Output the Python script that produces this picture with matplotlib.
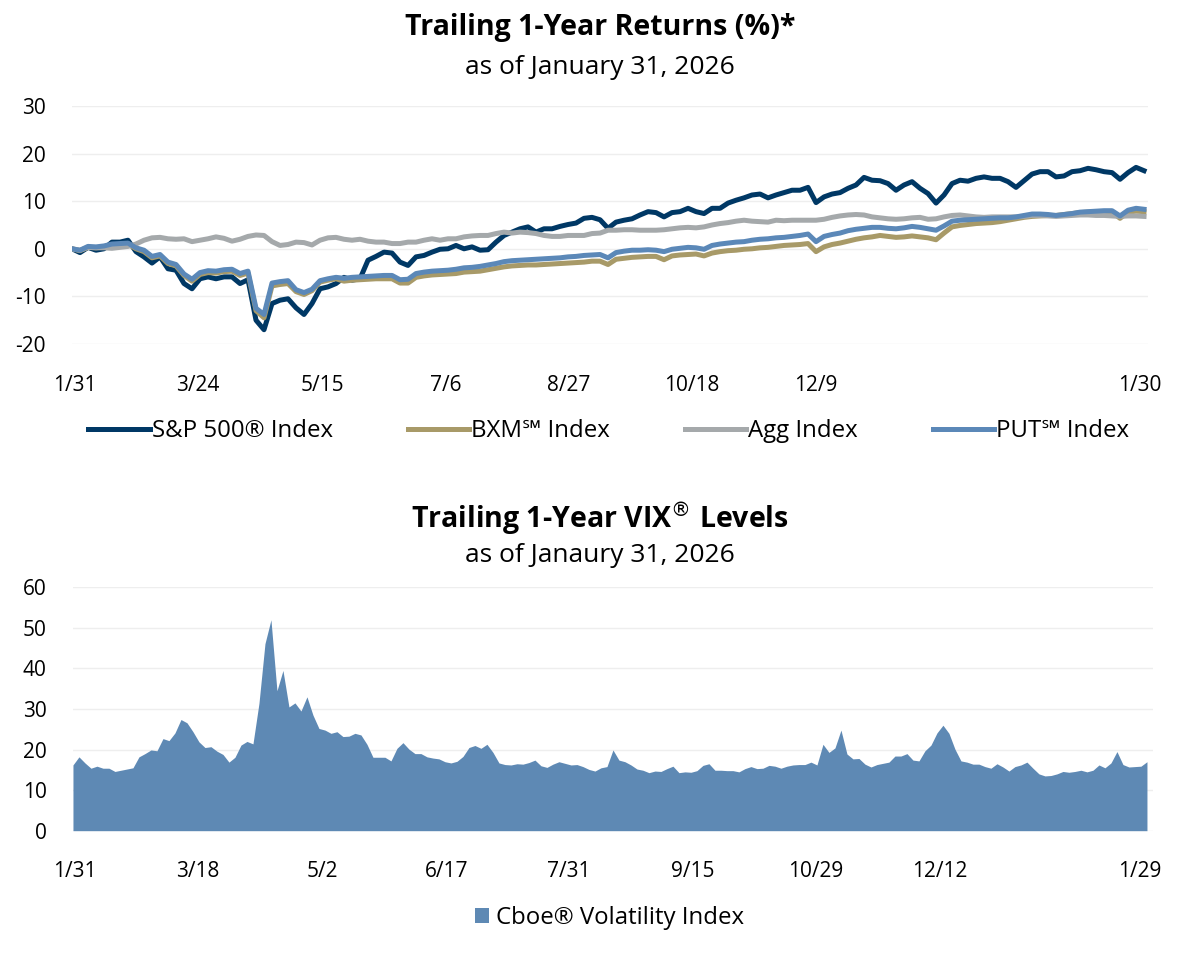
import numpy as np
import matplotlib.pyplot as plt

plt.rcParams['font.family'] = ['Open Sans', 'DejaVu Sans']
plt.rcParams['axes.unicode_minus'] = False

# ---- trailing 1-year returns (%), sampled along the chart ----
sp500 = [0, -0.8, 0.3, -0.3, 0, 1.4, 1.4, 1.8, -0.6, -1.7,
         -3.0, -1.7, -4.2, -4.5, -7.3, -8.4, -6.3, -5.9, -6.3, -5.9,
         -5.9, -7.3, -6.5, -15.0, -17.0, -11.5, -10.8, -10.5, -12.4, -13.8,
         -11.5, -8.4, -8.0, -7.3,
         -6.0, -6.6, -6.3, -2.4, -1.6, -0.7, -0.9, -2.8, -3.5, -1.7,
         -1.4, -0.7, -0.1, 0.0, 0.7, 0.0, 0.4, -0.3, -0.2, 1.4,
         2.8, 3.5, 4.2, 4.6, 3.5, 4.2, 4.2, 4.7, 5.1, 5.4,
         6.4, 6.6, 6.1, 4.3,
         5.6, 6.0, 6.3, 7.1, 7.8, 7.6, 6.7, 7.6, 7.8, 8.5,
         7.8, 7.4, 8.5, 8.5, 9.6, 10.2, 10.7, 11.3, 11.5, 10.7,
         11.3, 11.8, 12.3, 12.3, 12.9, 9.7, 10.9, 11.5, 11.8, 12.7,
         13.4, 15.0, 14.4,
         14.3, 13.7, 12.3, 13.4, 14.1, 12.7, 11.6, 9.6, 11.3, 13.7,
         14.4, 14.2, 14.8, 15.1, 14.8, 14.8, 14.1, 12.9, 14.3, 15.7,
         16.2, 16.2, 15.1, 15.3, 16.2, 16.4, 16.9, 16.6, 16.2, 16.0,
         14.6, 16.0, 17.1, 16.4]

bxm = [0, -0.4, 0.3, 0.2, 0.4, 0.8, 0.9, 1.0, 0.0, -0.6,
       -1.9, -1.5, -3.1, -3.6, -5.6, -6.8, -5.4, -5.0, -5.1, -4.8,
       -4.7, -5.6, -5.1, -13.0, -14.5, -7.8, -7.5, -7.3, -9.0, -9.6,
       -8.8, -7.0, -6.6, -6.3,
       -6.8, -6.6, -6.5, -6.4, -6.3, -6.3, -6.3, -7.2, -7.2, -6.0,
       -5.7, -5.5, -5.4, -5.3, -5.2, -4.9, -4.8, -4.7, -4.4, -4.1,
       -3.8, -3.6, -3.5, -3.4, -3.4, -3.3, -3.2, -3.1, -3.0, -2.9,
       -2.8, -2.6, -2.6, -3.3,
       -2.2, -2.0, -1.8, -1.7, -1.6, -1.6, -2.3, -1.5, -1.3, -1.2,
       -1.1, -1.5, -0.9, -0.6, -0.4, -0.3, -0.1, 0.0, 0.2, 0.3,
       0.5, 0.7, 0.8, 0.9, 1.1, -0.6, 0.4, 0.9, 1.2, 1.6,
       2.0, 2.3, 2.5,
       2.8, 2.6, 2.4, 2.5, 2.7, 2.5, 2.3, 1.9, 3.3, 4.6,
       4.9, 5.1, 5.3, 5.4, 5.5, 5.7, 6.0, 6.3, 6.6, 6.8,
       6.9, 7.0, 7.0, 7.2, 7.4, 7.6, 7.7, 7.7, 7.7, 7.7,
       6.4, 7.7, 7.9, 7.8]

agg = [0, -0.3, 0.3, 0.2, 0.2, 0.1, 0.3, 0.5, 1.0, 1.8,
       2.3, 2.4, 2.1, 2.0, 2.1, 1.5, 1.8, 2.1, 2.5, 2.2,
       1.6, 2.0, 2.6, 2.9, 2.8, 1.5, 0.7, 0.9, 1.4, 1.3,
       0.8, 1.8, 2.3, 2.4,
       2.0, 1.8, 2.0, 1.6, 1.4, 1.4, 1.1, 1.1, 1.4, 1.4,
       1.8, 2.1, 1.8, 2.1, 2.1, 2.5, 2.7, 2.8, 2.8, 3.2,
       3.5, 3.3, 3.5, 3.4, 3.2, 2.8, 2.6, 2.6, 2.8, 2.8,
       2.8, 3.2, 3.3, 3.9,
       3.9, 4.0, 4.0, 3.9, 3.9, 3.9, 4.0, 4.2, 4.4, 4.5,
       4.4, 4.6, 5.0, 5.3, 5.5, 5.8, 6.0, 5.8, 5.7, 5.6,
       6.0, 5.9, 6.0, 6.0, 6.0, 6.0, 6.2, 6.6, 6.9, 7.1,
       7.2, 7.1, 6.7,
       6.5, 6.3, 6.2, 6.3, 6.5, 6.6, 6.2, 6.3, 6.7, 7.0,
       7.1, 6.9, 6.7, 6.6, 6.7, 6.7, 6.7, 6.7, 6.8, 7.0,
       7.0, 6.9, 6.8, 6.9, 7.0, 7.1, 7.1, 7.0, 7.0, 6.9,
       6.8, 6.9, 6.9, 6.8]

put = [0, -0.3, 0.5, 0.4, 0.6, 1.0, 1.1, 1.2, 0.2, -0.3,
       -1.6, -1.2, -2.8, -3.3, -5.3, -6.4, -5.0, -4.6, -4.7, -4.4,
       -4.3, -5.2, -4.7, -12.5, -13.8, -7.2, -6.9, -6.7, -8.6, -9.2,
       -8.5, -6.7, -6.3, -6.0,
       -6.2, -6.0, -5.9, -5.8, -5.7, -5.6, -5.6, -6.5, -6.4, -5.2,
       -4.9, -4.7, -4.6, -4.5, -4.3, -4.0, -3.9, -3.7, -3.4, -3.1,
       -2.7, -2.5, -2.4, -2.3, -2.2, -2.1, -2.0, -1.9, -1.7, -1.6,
       -1.4, -1.3, -1.2, -1.9,
       -0.8, -0.5, -0.3, -0.3, -0.2, -0.3, -0.6, -0.1, 0.1, 0.3,
       0.2, -0.1, 0.7, 1.0, 1.2, 1.4, 1.5, 1.8, 2.0, 2.1,
       2.3, 2.4, 2.6, 2.8, 3.1, 1.5, 2.6, 3.0, 3.3, 3.8,
       4.1, 4.3, 4.5,
       4.5, 4.3, 4.2, 4.4, 4.7, 4.5, 4.2, 3.9, 4.8, 5.8,
       6.0, 6.1, 6.2, 6.3, 6.4, 6.5, 6.5, 6.7, 7.0, 7.3,
       7.3, 7.2, 7.0, 7.2, 7.4, 7.7, 7.8, 7.9, 8.0, 8.0,
       6.9, 8.1, 8.5, 8.3]

ret_ticks = ['1/31', '3/24', '5/15', '7/6', '8/27', '10/18', '12/9', '1/30']
ret_tick_pos = [0.4, 15.75, 31.25, 46.75, 62.1, 77.5, 93.0, 133.5]

# ---- VIX levels ----
vix = [16.2, 18.2, 16.7, 15.4, 15.9, 15.4, 15.4, 14.6, 14.9, 15.2,
       15.5, 18.2, 19.0, 19.9, 19.7, 22.7, 22.2, 24.1, 27.4, 26.6,
       24.4, 21.9, 20.5, 20.7, 19.6, 18.8, 16.9, 18.1, 21.1, 22.0,
       21.4, 31.4, 46.1, 52.0, 34.5, 39.5, 30.5, 31.5, 29.5, 33.0,
       28.5, 25.2, 24.8, 24.0, 24.4, 23.2, 23.3, 24.0, 23.6, 21.3,
       18.1, 18.1, 18.1, 17.2, 20.3,
       21.7, 20.1, 19.0, 19.0, 18.2, 17.9, 17.7, 17.0, 16.7, 17.1,
       18.3, 20.5, 21.0, 20.3, 21.3, 19.3, 16.7, 16.3, 16.2, 16.5,
       16.4, 16.8, 17.4, 16.0, 15.6, 16.4, 17.0, 16.6, 16.2, 16.3,
       15.8, 15.1, 14.7, 15.5, 15.8, 19.9, 17.4, 17.0, 16.2, 15.2,
       14.9, 14.3, 14.7, 14.6, 15.3, 15.9, 14.3, 14.5, 14.4, 14.8,
       16.1, 16.5, 14.9, 14.9, 14.8, 14.8, 14.5, 15.3, 15.8, 15.3,
       15.4, 16.1, 15.9, 15.4, 15.9, 16.2, 16.3,
       16.3, 16.9, 16.2, 21.3, 19.3, 20.4, 24.8, 18.9, 17.7, 17.8,
       16.4, 15.7, 16.3, 16.6, 16.9, 18.4, 18.4, 19.0, 17.4, 17.2,
       19.7, 21.1, 24.1, 26.0, 24.0, 20.1, 17.2, 16.9, 16.4, 16.4,
       15.8, 15.4, 16.5, 15.7, 14.7, 15.8, 16.2, 16.9, 15.4, 14.0,
       13.5, 13.6, 14.0, 14.6, 14.4, 14.6, 14.9, 14.5, 14.9, 16.2,
       15.5, 16.7, 19.5, 16.3, 15.7, 15.8, 15.9, 17.0]

vix_ticks = ['1/31', '3/18', '5/2', '6/17', '7/31', '9/15', '10/29', '12/12', '1/29']
vix_tick_pos = [0.3, 20.8, 41.5, 62.2, 82.7, 103.3, 123.8, 144.5, 177.8]

c_sp = '#003865'
c_bxm = '#a89a68'
c_agg = '#a5a9ab'
c_put = '#5b88b8'
c_vix = '#5e89b4'
grid_c = '#eeeeee'

fig = plt.figure(figsize=(12, 9.59), dpi=100)

# ---------------- top chart ----------------
ax1 = fig.add_axes([0.06, 0.6413, 0.8967, 0.2482])
x1 = np.arange(len(sp500))
lw = 3.6
ax1.plot(x1, sp500, color=c_sp, lw=lw, label='S&P 500® Index', solid_joinstyle='round')
ax1.plot(x1, bxm, color=c_bxm, lw=lw, label='BXM\u2120 Index', solid_joinstyle='round')
ax1.plot(x1, agg, color=c_agg, lw=lw, label='Agg Index', solid_joinstyle='round')
ax1.plot(x1, put, color=c_put, lw=lw, label='PUT\u2120 Index', solid_joinstyle='round')
ax1.set_xlim(0, 134.5)
ax1.set_ylim(-20, 30)
ax1.set_yticks([-20, -10, 0, 10, 20, 30])
ax1.set_xticks(ret_tick_pos)
ax1.set_xticklabels(ret_ticks)
ax1.grid(axis='y', color=grid_c, lw=1)
ax1.set_axisbelow(True)
for s in ax1.spines.values():
    s.set_visible(False)
ax1.tick_params(length=0, labelsize=15, colors='black')
ax1.tick_params(axis='y', pad=19)
ax1.tick_params(axis='x', pad=22)

fig.text(0.5, 1 - 27 / 959, 'Trailing 1-Year Returns (%)*', ha='center', va='center',
         fontsize=20.5, fontweight='bold')
fig.text(0.5, 1 - 67 / 959, 'as of January 31, 2026', ha='center', va='center', fontsize=19)

fig.legend(*ax1.get_legend_handles_labels(), loc='center', bbox_to_anchor=(0.5075, 1 - 431 / 959),
           ncol=4, frameon=False, fontsize=17.3, handlelength=2.55, handletextpad=0.1,
           columnspacing=3.1)

# ---------------- bottom chart ----------------
ax2 = fig.add_axes([0.0608, 0.1338, 0.9, 0.2538])
x2 = np.arange(len(vix))
ax2.fill_between(x2, vix, 0, color=c_vix, lw=0, label='Cboe® Volatility Index')
ax2.set_xlim(0, 180)
ax2.set_ylim(0, 60)
ax2.set_yticks(range(0, 61, 10))
ax2.set_xticks(vix_tick_pos)
ax2.set_xticklabels(vix_ticks)
ax2.grid(axis='y', color=grid_c, lw=1)
ax2.set_axisbelow(True)
for s in ax2.spines.values():
    s.set_visible(False)
ax2.tick_params(length=0, labelsize=15, colors='black')
ax2.tick_params(axis='y', pad=19)
ax2.tick_params(axis='x', pad=22)

fig.text(0.5, 1 - 519 / 959, r'Trailing 1-Year VIX$^{\circledR}$ Levels', ha='center', va='center',
         fontsize=20.5, fontweight='bold')
fig.text(0.5, 1 - 556 / 959, 'as of Janaury 31, 2026', ha='center', va='center', fontsize=19)

fig.legend(*ax2.get_legend_handles_labels(), loc='center', bbox_to_anchor=(0.508, 1 - 918 / 959),
           frameon=False, fontsize=17.3, handlelength=0.6, handleheight=0.6, handletextpad=0.3)

fig.savefig('out.png', dpi=100)
